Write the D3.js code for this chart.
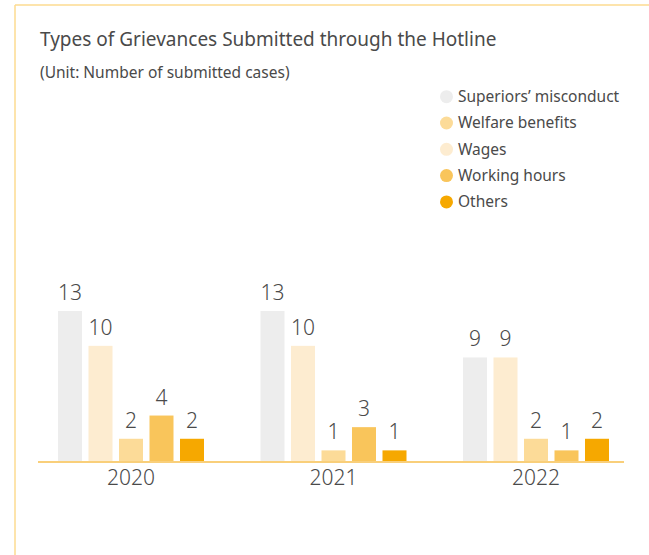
<!DOCTYPE html>
<html>
<head>
<meta charset="utf-8">
<script src="https://cdn.jsdelivr.net/npm/d3@7"></script>
<style>
  html, body { margin: 0; padding: 0; background: #fff; }
  svg { display: block; }
  text { font-family: "Noto Sans", "Open Sans", sans-serif; fill: #4a4a4a; }
</style>
</head>
<body>
<svg id="chart" width="649" height="555"></svg>
<script>
// Grievance counts per year, by type (bar order within each year)
const years = ["2020", "2021", "2022"];
const barSeries = ["Superiors’ misconduct", "Wages", "Welfare benefits", "Working hours", "Others"];
const superiors = [13, 13, 9];
const wages = [10, 10, 9];
const welfare = [2, 1, 2];
const workingHours = [4, 3, 1];
const others = [2, 1, 2];

// Legend entries in their listed order
const legendItems = ["Superiors’ misconduct", "Welfare benefits", "Wages", "Working hours", "Others"];

const colors = {
  "Superiors’ misconduct": "#ededed",
  "Welfare benefits": "#fcdb98",
  "Wages": "#fdecd0",
  "Working hours": "#f9c55b",
  "Others": "#f6a800"
};

const valuesBySeries = {
  "Superiors’ misconduct": superiors,
  "Wages": wages,
  "Welfare benefits": welfare,
  "Working hours": workingHours,
  "Others": others
};

const svg = d3.select("#chart");

// Panel frame: top and left rules
svg.append("line").attr("x1", 15).attr("x2", 649).attr("y1", 5).attr("y2", 5)
  .attr("stroke", "#fddb90").attr("stroke-width", 1.5);
svg.append("line").attr("x1", 15).attr("x2", 15).attr("y1", 5).attr("y2", 555)
  .attr("stroke", "#fddb90").attr("stroke-width", 1.5);

// Title and unit note
svg.append("text").attr("x", 40).attr("y", 46)
  .style("font-size", "19px").style("fill", "#4a4a4a")
  .text("Types of Grievances Submitted through the Hotline");
svg.append("text").attr("x", 40).attr("y", 78)
  .style("font-size", "15.5px").style("fill", "#4a4a4a")
  .text("(Unit: Number of submitted cases)");

// Scales
const baseY = 462;
const y = d3.scaleLinear().domain([0, 13]).range([baseY, 311]);
const x0 = d3.scaleBand().domain(years).range([29.75, 637.25]).padding(0);
const x1 = d3.scaleBand().domain(barSeries).range([0, 146]).paddingInner(0.213).paddingOuter(0);

const groups = svg.append("g").selectAll("g")
  .data(years)
  .join("g")
  .attr("transform", d => `translate(${x0(d) + x0.bandwidth() / 2 - 73},0)`);

const cells = groups.selectAll("g.bar")
  .data((yr, i) => barSeries.map(s => ({ series: s, value: valuesBySeries[s][i] })))
  .join("g").attr("class", "bar");

cells.append("rect")
  .attr("x", d => x1(d.series))
  .attr("width", x1.bandwidth())
  .attr("y", d => y(d.value))
  .attr("height", d => baseY - y(d.value))
  .attr("fill", d => colors[d.series]);

cells.append("text")
  .attr("x", d => x1(d.series) + x1.bandwidth() / 2)
  .attr("y", d => y(d.value) - 11)
  .attr("text-anchor", "middle")
  .style("font-size", "21px").style("font-weight", 300)
  .text(d => d.value);

// Baseline axis with year labels
svg.append("line").attr("x1", 38).attr("x2", 624).attr("y1", baseY).attr("y2", baseY)
  .attr("stroke", "#f9cf7a").attr("stroke-width", 2);

svg.append("g").selectAll("text")
  .data(years)
  .join("text")
  .attr("x", d => x0(d) + x0.bandwidth() / 2)
  .attr("y", 485)
  .attr("text-anchor", "middle")
  .style("font-size", "21px").style("font-weight", 300)
  .text(d => d);

// Legend
const legend = svg.append("g").selectAll("g")
  .data(legendItems)
  .join("g")
  .attr("transform", (d, i) => `translate(0,${96.7 + i * 26.3})`);
legend.append("circle").attr("cx", 446.5).attr("cy", 0).attr("r", 6.5)
  .attr("fill", d => colors[d]);
legend.append("text").attr("x", 458).attr("y", 0).attr("dy", "0.35em")
  .style("font-size", "15.5px")
  .text(d => d);
</script>
</body>
</html>
